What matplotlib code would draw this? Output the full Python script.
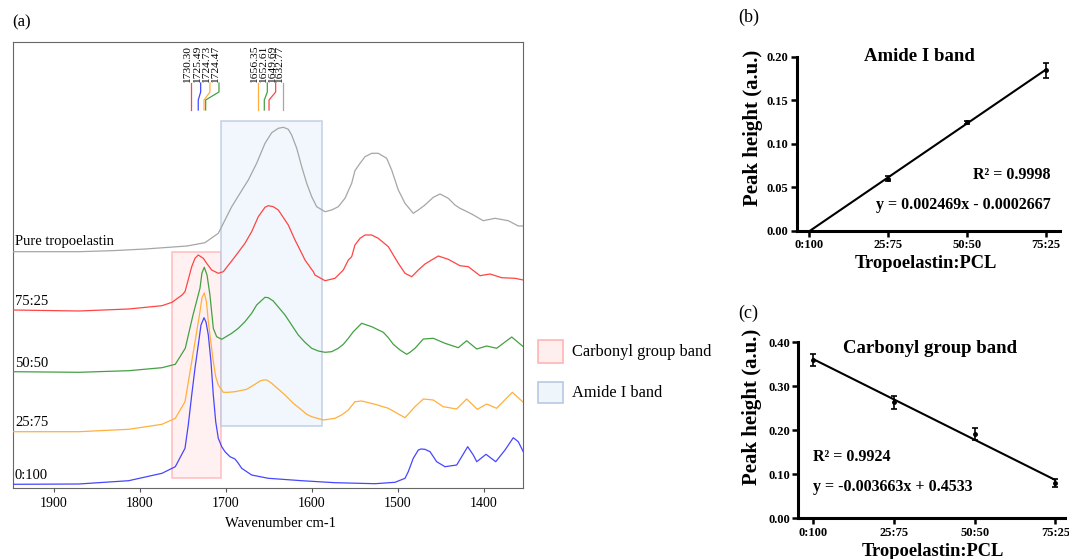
import matplotlib
matplotlib.use("Agg")
import matplotlib.pyplot as plt
from matplotlib.patches import Rectangle
import numpy as np

plt.rcParams['font.family'] = ['Liberation Serif', 'DejaVu Serif']

# ---- panel (a): FTIR spectra (offset stacked, arbitrary units) ----
gray_wn = [1947.3, 1870.9, 1832.2, 1793.5, 1745.0, 1724.1, 1708.6, 1700.8, 1693.0, 1683.4,
           1673.7, 1664.0, 1654.3, 1646.5, 1638.8, 1633.0, 1627.2, 1623.3, 1617.4, 1611.6,
           1605.8, 1600.0, 1594.2, 1584.5, 1576.8, 1569.1, 1561.3, 1553.5, 1549.7, 1543.8,
           1538.0, 1530.2, 1522.6, 1512.8, 1507.0, 1499.3, 1491.5, 1481.9, 1476.0, 1468.3,
           1458.6, 1450.8, 1441.2, 1433.4, 1427.6, 1421.7, 1414.0, 1400.5, 1386.9, 1371.4,
           1359.8, 1354.0]
gray_y = [236.3, 236.3, 237.3, 239.0, 242.0, 245.3, 254.7, 268.0, 281.3, 294.7,
          308.0, 324.7, 344.7, 355.3, 359.7, 360.7, 358.7, 353.0, 339.7, 321.3,
          304.7, 291.3, 281.3, 276.3, 278.0, 281.3, 289.7, 304.7, 317.3, 324.7,
          331.3, 334.7, 334.7, 329.7, 318.0, 298.0, 284.7, 274.7, 278.0, 283.0,
          290.7, 294.0, 289.7, 283.0, 279.7, 277.3, 274.0, 267.3, 269.7, 267.3,
          262.0, 262.0]

red_wn = [1947.3, 1870.9, 1812.8, 1774.1, 1762.4, 1750.8, 1747.3, 1739.5, 1735.7, 1731.9,
          1726.0, 1722.1, 1716.3, 1708.6, 1702.8, 1689.2, 1677.6, 1669.8, 1662.1, 1654.3,
          1650.5, 1644.7, 1638.8, 1627.2, 1619.4, 1611.6, 1607.8, 1598.1, 1596.2, 1584.5,
          1572.9, 1563.2, 1557.4, 1553.5, 1549.7, 1543.8, 1538.0, 1530.2, 1522.6, 1510.9,
          1505.1, 1499.3, 1491.5, 1483.7, 1476.0, 1468.3, 1452.8, 1441.2, 1427.6, 1417.9,
          1404.3, 1392.7, 1379.1, 1363.6, 1354.0]
red_y = [178.0, 177.0, 179.0, 182.3, 185.7, 193.0, 196.3, 221.3, 229.7, 233.0,
         229.7, 224.7, 218.0, 214.7, 216.3, 231.3, 244.7, 256.3, 271.3, 280.7,
         282.3, 281.3, 278.0, 263.0, 248.0, 234.7, 228.0, 216.3, 213.0, 207.3,
         209.7, 218.0, 228.0, 231.3, 243.0, 249.7, 253.0, 253.0, 249.7, 241.3,
         233.0, 224.7, 214.7, 211.3, 218.0, 224.0, 232.0, 228.7, 222.3, 221.3,
         212.3, 214.0, 210.3, 209.7, 208.0]

green_wn = [1947.3, 1870.9, 1812.8, 1774.1, 1758.6, 1747.0, 1738.0, 1729.9, 1727.6, 1724.9,
            1721.7, 1718.3, 1714.4, 1710.5, 1704.6, 1693.0, 1685.3, 1677.6, 1669.8, 1664.0,
            1654.3, 1650.5, 1644.7, 1631.0, 1623.3, 1615.6, 1607.8, 1600.0, 1592.3, 1584.5,
            1576.8, 1569.1, 1563.2, 1557.4, 1551.6, 1541.9, 1530.2, 1516.7, 1510.9, 1505.1,
            1497.3, 1489.5, 1485.7, 1479.9, 1470.2, 1458.6, 1445.0, 1429.5, 1419.8, 1408.1,
            1396.5, 1385.0, 1367.4, 1354.0]
green_y = [116.3, 115.7, 117.3, 120.3, 123.7, 139.7, 173.0, 199.7, 215.0, 220.7,
           213.0, 193.0, 159.7, 151.3, 148.7, 154.7, 159.7, 166.3, 174.7, 183.0,
           190.7, 190.3, 187.0, 173.0, 163.0, 153.0, 145.7, 139.7, 137.0, 135.7,
           136.3, 139.7, 143.7, 149.7, 156.3, 164.7, 161.3, 155.7, 150.3, 143.7,
           138.0, 133.7, 135.7, 139.7, 149.0, 149.7, 144.7, 140.3, 147.3, 139.0,
           142.0, 139.7, 151.0, 141.3]

orange_wn = [1947.3, 1870.9, 1812.8, 1774.1, 1758.6, 1747.3, 1739.5, 1729.9, 1727.6, 1724.9,
             1722.3, 1720.2, 1714.4, 1711.6, 1708.6, 1702.8, 1697.0, 1689.2, 1675.6, 1665.9,
             1660.1, 1656.3, 1652.3, 1646.5, 1631.0, 1621.4, 1611.6, 1605.8, 1600.0, 1586.5,
             1572.9, 1565.2, 1557.4, 1549.7, 1541.9, 1526.4, 1510.9, 1491.5, 1479.9, 1470.2,
             1458.6, 1447.0, 1431.4, 1419.8, 1407.4, 1396.5, 1385.0, 1366.7, 1354.0]
orange_y = [56.3, 56.3, 58.7, 63.7, 69.7, 86.3, 126.3, 176.3, 190.0, 195.0,
            186.0, 166.3, 126.3, 111.3, 103.0, 95.7, 95.7, 96.3, 98.7, 103.7,
            107.0, 108.0, 108.0, 104.7, 93.0, 84.7, 78.0, 73.7, 71.3, 68.0,
            69.7, 73.0, 78.0, 86.3, 87.0, 83.7, 79.7, 70.3, 81.3, 89.0,
            88.0, 81.3, 79.0, 89.0, 78.7, 84.0, 79.7, 95.7, 85.7]

blue_wn = [1947.3, 1870.9, 1812.8, 1774.1, 1758.6, 1747.3, 1743.5, 1739.5, 1735.7, 1731.9,
           1728.7, 1725.2, 1722.9, 1720.2, 1717.1, 1714.4, 1711.6, 1708.6, 1704.6, 1700.8,
           1695.0, 1689.2, 1685.3, 1681.4, 1669.8, 1650.5, 1611.6, 1572.9, 1526.4, 1503.1,
           1491.5, 1487.7, 1481.9, 1476.0, 1472.9, 1468.3, 1462.4, 1454.7, 1445.0, 1431.4,
           1418.6, 1412.1, 1408.1, 1397.3, 1386.0, 1375.2, 1365.6, 1359.8, 1354.0]
blue_y = [3.7, 4.0, 7.3, 14.7, 21.3, 39.7, 63.0, 93.0, 119.7, 143.0,
          163.0, 170.3, 166.0, 153.0, 126.3, 93.0, 66.3, 49.7, 41.3, 36.3,
          31.3, 29.0, 24.7, 19.7, 13.0, 9.7, 7.3, 5.3, 4.3, 5.7,
          9.7, 16.3, 29.7, 38.0, 39.0, 38.7, 36.3, 26.3, 21.3, 23.0,
          41.3, 33.0, 26.3, 33.7, 26.3, 38.0, 50.3, 46.3, 36.3]

sample_labels = ['Pure tropoelastin', '75:25', '50:50', '25:75', '0:100']
label_y = [240, 180, 118, 59, 6]

carbonyl_band = (1762.4, 1705.5)
amide_band = (1705.5, 1588.4)

peak_labels_1 = ['1730.30', '1725.49', '1724.73', '1724.47']
peak_labels_2 = ['1656.35', '1652.61', '1649.69', '1632.77']

# ---- panels (b), (c): peak heights ----
ratios = ['0:100', '25:75', '50:50', '75:25']
amide_x = [0, 25, 50, 75]
amide_mean = [0.0, 0.060, 0.1245, 0.1845]
amide_err = [0.0, 0.0030, 0.0015, 0.0085]
amide_slope, amide_icpt = 0.002469, -0.0002667

carb_x = [25, 50, 75, 100]
carb_mean = [0.360, 0.264, 0.192, 0.080]
carb_err = [0.014, 0.015, 0.013, 0.009]
carb_slope, carb_icpt = -0.003663, 0.4533

W, H = 1069, 559
fig = plt.figure(figsize=(W / 100, H / 100), dpi=100)

def fx(px):
    return px / W

def fy(py):
    return 1 - py / H

# (a)
ax = fig.add_axes([fx(13), fy(488), fx(510), 446 / H])
ax.add_patch(Rectangle((carbonyl_band[1], 10.3), carbonyl_band[0] - carbonyl_band[1], 226,
                       facecolor='#ffeeee', edgecolor='#ffb4b4', lw=1.2, alpha=0.8, zorder=1))
ax.add_patch(Rectangle((amide_band[1], 62.3), amide_band[0] - amide_band[1], 304.7,
                       facecolor='#eef6fc', edgecolor='#b9c9e1', lw=1.2, alpha=0.8, zorder=1))

spectra = [(gray_wn, gray_y, '#a6a6a6'), (red_wn, red_y, '#ff4444'),
           (green_wn, green_y, '#44a044'), (orange_wn, orange_y, '#ffb03c'),
           (blue_wn, blue_y, '#4646ff')]
for wn, yy, c in spectra:
    order = np.argsort(wn)[::-1]
    ax.plot(np.array(wn)[order], np.array(yy)[order], color=c, lw=0.9, zorder=3,
            solid_joinstyle='round')

for lab, yy in zip(sample_labels, label_y):
    ax.text(1945, yy, lab, fontsize=10.5, ha='left', va='bottom')

# leader lines for peak positions
lead1 = [('#ff4444', 1740.7, 1740.7), ('#4646ff', 1729.1, 1731.9),
         ('#ffb03c', 1718.3, 1725.2), ('#44a044', 1707.8, 1723.3)]
lead2 = [('#ffb03c', 1662.1, 1662.1), ('#44a044', 1651.6, 1655.1),
         ('#ff4444', 1641.9, 1649.6), ('#a6a6a6', 1633.0, 1633.0)]
for leads, labs in [(lead1, peak_labels_1), (lead2, peak_labels_2)]:
    for (c, xt, xb), lab in zip(leads, labs):
        ax.plot([xt, xt, xb, xb], [405, 396, 388, 378], color=c, lw=0.9)
        ax.text(xt + 4.0, 405, lab, rotation=90, fontsize=8.2, ha='center', va='bottom',
                linespacing=0.9)

ax.set_xlim(1947.3, 1354.3)
ax.set_ylim(0, 446)
ax.set_xticks([1900, 1800, 1700, 1600, 1500, 1400])
ax.tick_params(axis='x', direction='out', length=3, labelsize=10, color='#555555')
ax.set_yticks([])
for s in ax.spines.values():
    s.set_color('#666666')
ax.set_xlabel('Wavenumber cm-1', fontsize=10.5)
ax.xaxis.set_label_coords(0.525, -0.066)
fig.text(fx(12), fy(22), '(a)', fontsize=12, va='center')

# legend boxes
fig.add_artist(Rectangle((fx(538), fy(363)), 25 / W, 23 / H, transform=fig.transFigure,
                         facecolor='#ffeeee', edgecolor='#ffb4b4', lw=1.2))
fig.add_artist(Rectangle((fx(538), fy(403)), 25 / W, 21 / H, transform=fig.transFigure,
                         facecolor='#eef6fc', edgecolor='#b9c9e1', lw=1.2))
fig.text(fx(572), fy(352), 'Carbonyl group band', fontsize=11.8, va='center')
fig.text(fx(572), fy(393), 'Amide I band', fontsize=11.8, va='center')


def style_panel(a, ylab_pos, xlab_pos):
    for side in ['top', 'right']:
        a.spines[side].set_visible(False)
    for side in ['left', 'bottom']:
        a.spines[side].set_linewidth(2.2)
    a.tick_params(direction='out', length=4, width=1.8, labelsize=9, pad=2)
    for t in a.get_xticklabels() + a.get_yticklabels():
        t.set_fontweight('bold')
    a.set_xlabel('Tropoelastin:PCL', fontsize=13.3, fontweight='bold')
    a.set_ylabel('Peak height (a.u.)', fontsize=15, fontweight='bold')
    a.yaxis.set_label_coords(*ylab_pos)
    a.xaxis.set_label_coords(*xlab_pos)


# (b)
bx = fig.add_axes([fx(796.7), fy(231), (1060 - 796.7) / W, (231 - 56.7) / H])
fit_b = [amide_slope * x + amide_icpt for x in (amide_x[0], amide_x[-1])]
bx.plot([amide_x[0], amide_x[-1]], fit_b, color='black', lw=1.5)
bx.errorbar(amide_x[1:], amide_mean[1:], yerr=amide_err[1:], fmt='o', ms=2.5, color='black',
            capsize=2.5, elinewidth=1.2, capthick=1.2)
bx.set_xlim(-4.0, 79.6)
bx.set_ylim(0, 0.20)
bx.set_xticks(amide_x)
bx.set_xticklabels(ratios)
bx.set_yticks([0, 0.05, 0.10, 0.15, 0.20])
bx.set_yticklabels(['0.00', '0.05', '0.10', '0.15', '0.20'])
style_panel(bx, (-0.128, 0.59), (0.49, -0.138))
bx.text(0.468, 1.0, 'Amide I band', transform=bx.transAxes, ha='center', va='center',
        fontsize=13.5, fontweight='bold')
bx.text(0.965, 0.321, 'R² = 0.9998', transform=bx.transAxes, ha='right', va='center',
        fontsize=11.5, fontweight='bold')
bx.text(0.965, 0.149, 'y = 0.002469x - 0.0002667', transform=bx.transAxes, ha='right',
        va='center', fontsize=11.5, fontweight='bold')
fig.text(fx(738), fy(17), '(b)', fontsize=13, va='center')

# (c)
cx = fig.add_axes([fx(798.3), fy(518.3), (1065 - 798.3) / W, (518.3 - 342.3) / H])
fit_c = [carb_slope * x + carb_icpt for x in (carb_x[0], carb_x[-1])]
cx.plot([carb_x[0], carb_x[-1]], fit_c, color='black', lw=1.5)
cx.errorbar(carb_x, carb_mean, yerr=carb_err, fmt='o', ms=2.5, color='black',
            capsize=2.5, elinewidth=1.2, capthick=1.2)
cx.set_xlim(20.35, 103.0)
cx.set_ylim(0, 0.40)
cx.set_xticks(carb_x)
cx.set_xticklabels(ratios)
cx.set_yticks([0, 0.1, 0.2, 0.3, 0.4])
cx.set_yticklabels(['0.00', '0.10', '0.20', '0.30', '0.40'])
style_panel(cx, (-0.137, 0.634), (0.505, -0.14))
cx.text(0.494, 0.966, 'Carbonyl group band', transform=cx.transAxes, ha='center', va='center',
        fontsize=13.5, fontweight='bold')
cx.text(0.055, 0.35, 'R² = 0.9924', transform=cx.transAxes, ha='left', va='center',
        fontsize=11.5, fontweight='bold')
cx.text(0.055, 0.18, 'y = -0.003663x + 0.4533', transform=cx.transAxes, ha='left',
        va='center', fontsize=11.5, fontweight='bold')
fig.text(fx(738), fy(313), '(c)', fontsize=13, va='center')

fig.savefig('out.png', dpi=100)
